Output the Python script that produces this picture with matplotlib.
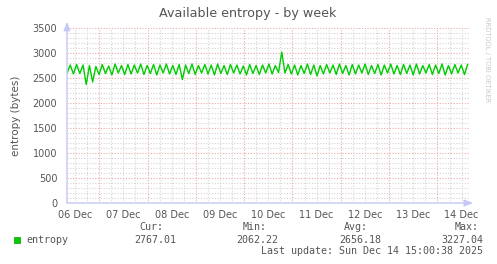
import numpy as np
import pandas as pd
import matplotlib
matplotlib.use("Agg")
import matplotlib.pyplot as plt
import matplotlib.dates as mdates

# entropy samples, Dec 6 08:00 -> Dec 14 15:00
entropy = [
    2600, 2760, 2580, 2770, 2590, 2760, 2370, 2750, 2420, 2730,
    2570, 2770, 2590, 2740, 2560, 2780, 2600, 2750, 2570, 2770,
    2580, 2760, 2600, 2780, 2570, 2750, 2590, 2770, 2560, 2760,
    2600, 2780, 2580, 2750, 2570, 2770, 2470, 2760, 2590, 2780,
    2570, 2750, 2600, 2770, 2580, 2760, 2560, 2780, 2590, 2750,
    2570, 2770, 2600, 2760, 2580, 2740, 2560, 2770, 2590, 2750,
    2570, 2760, 2600, 2780, 2580, 2750, 2610, 3020, 2600, 2770,
    2580, 2760, 2560, 2750, 2590, 2780, 2570, 2760, 2540, 2750,
    2580, 2770, 2600, 2760, 2570, 2780, 2590, 2750, 2560, 2770,
    2580, 2760, 2600, 2780, 2570, 2750, 2590, 2770, 2560, 2760,
    2600, 2780, 2580, 2750, 2570, 2770, 2590, 2760, 2560, 2780,
    2580, 2750, 2600, 2770, 2570, 2760, 2590, 2780, 2560, 2750,
    2580, 2770, 2600, 2760, 2570, 2770,
]
times = pd.date_range("2025-12-06 08:00", "2025-12-14 15:00", periods=len(entropy))

stats_labels = ["Cur:", "Min:", "Avg:", "Max:"]
stats_values = ["2767.01", "2062.22", "2656.18", "3227.04"]
last_update = "Last update: Sun Dec 14 15:00:38 2025"

W, H = 497, 264
TXT = "#555555"
AXIS = "#C4C8F4"
MINOR = "#D4D4D4"
MAJOR = "#EBA8A8"
GREEN = "#00CC00"

fig = plt.figure(figsize=(W / 100, H / 100), dpi=100)
fig.patch.set_facecolor("white")
L, R, T, B = 67, 469, 28, 203
ax = fig.add_axes([L / W, (H - B) / H, (R - L) / W, (B - T) / H])

x0 = pd.Timestamp("2025-12-06 08:00")
x1 = pd.Timestamp("2025-12-14 15:40")
ax.set_xlim(x0, x1)
ax.set_ylim(0, 3500)

# grid, rrdtool style
for v in range(100, 3600, 100):
    ax.axhline(v, color=MAJOR if v % 500 == 0 else MINOR, lw=0.8,
               ls=(0, (1, 1.5)), zorder=1)
for t in pd.date_range("2025-12-06 12:00", "2025-12-14 12:00", freq="6h"):
    ax.axvline(t, color=MAJOR if t.hour == 0 else MINOR, lw=0.8,
               ls=(0, (1, 1.5)), zorder=1)

ax.plot(times, entropy, color=GREEN, lw=1.0, zorder=3)

for s in ax.spines.values():
    s.set_visible(False)

ax.set_yticks(range(0, 3501, 500))
ax.tick_params(axis="y", length=0, pad=7, labelsize=7, labelcolor=TXT)
noon = pd.date_range("2025-12-06 12:00", "2025-12-14 12:00", freq="1D")
ax.set_xticks(noon)
ax.xaxis.set_major_formatter(mdates.DateFormatter("%d %b"))
ax.tick_params(axis="x", length=0, pad=5, labelsize=7, labelcolor=TXT)

# axis lines with arrows
ax.annotate("", xy=(1.01, 0), xytext=(0, 0), xycoords="axes fraction",
            arrowprops=dict(arrowstyle="-|>,head_length=0.5,head_width=0.2",
                            color=AXIS, lw=1, shrinkA=0, shrinkB=0), zorder=4)
ax.annotate("", xy=(0, 1.035), xytext=(0, 0), xycoords="axes fraction",
            arrowprops=dict(arrowstyle="-|>,head_length=0.5,head_width=0.2",
                            color=AXIS, lw=1, shrinkA=0, shrinkB=0), zorder=4)

ax.set_ylabel("entropy (bytes)", fontsize=7.5, color=TXT, labelpad=8)

fig.text(248 / W, 1 - 13 / H, "Available entropy - by week", ha="center",
         va="center", fontsize=9.2, color=TXT)
fig.text(487 / W, 1 - 60 / H, "RRDTOOL / TOBI OETIKER", ha="center",
         va="center", rotation=270, fontsize=4.8, color="#C8C8C8")

# legend block
def px(x, y):
    return x / W, 1 - y / H

fig.patches.append(plt.Rectangle(px(14, 243), 6 / W, 6 / H, transform=fig.transFigure,
                                 facecolor=GREEN, edgecolor="#00A000", lw=0.5))
mono = dict(family="DejaVu Sans Mono", fontsize=7.2, color=TXT, va="center")
fig.text(*px(26, 240), "entropy", ha="left", **mono)
head_x = [163, 267, 368, 479]
val_x = [176, 278, 381, 483]
for lab, hx in zip(stats_labels, head_x):
    fig.text(*px(hx, 227), lab, ha="right", **mono)
for val, vx in zip(stats_values, val_x):
    fig.text(*px(vx, 240), val, ha="right", **mono)
fig.text(*px(483, 251), last_update, ha="right", **mono)

fig.savefig("out.png", dpi=100, facecolor="white")
